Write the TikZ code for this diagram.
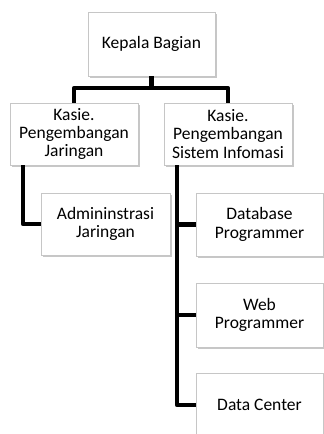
\documentclass[tikz,border=0pt]{standalone}
\usepackage{fontspec}
\setmainfont{Carlito}
\usetikzlibrary{shadows}
\tikzset{
    jabatan/.style={draw=gray!45, fill=white, align=center, inner sep=2pt,
        font=\fontsize{17.5}{18.4}\selectfont,
        drop shadow={shadow xshift=1.6pt, shadow yshift=-1.8pt, fill=gray!55, opacity=0.8}},
    garis/.style={line width=4.5pt, line join=round}
}

\begin{document}
\begin{tikzpicture}[x=1pt, y=-1pt]
    \useasboundingbox (0,0) rectangle (324,434);
    \clip (0,0) rectangle (324,434);

    % kepala dan kasie
    \node[jabatan, minimum width=127pt, minimum height=64pt] (kb) at (151.5, 44) {Kepala Bagian};
    \node[jabatan, minimum width=128pt, minimum height=62pt] (kj) at (74, 134)
        {Kasie.\\Pengembangan\\Jaringan};
    \node[jabatan, minimum width=128pt, minimum height=62pt] (ks) at (228, 134)
        {Kasie.\\Pengembangan\\Sistem Infomasi};

    % staf
    \node[jabatan, minimum width=129pt, minimum height=62pt] (adm) at (105.5, 224)
        {Admininstrasi\\Jaringan};
    \node[jabatan, minimum width=127pt, minimum height=63pt] (db) at (259.5, 224.5)
        {Database\\Programmer};
    \node[jabatan, minimum width=127pt, minimum height=64pt] (web) at (259.5, 315)
        {Web\\Programmer};
    \node[jabatan, minimum width=127pt, minimum height=64pt] (dc) at (259.5, 405)
        {Data Center};

    \coordinate (jl) at (23, 165);
    \coordinate (sl) at (177, 165);

    \draw[garis] (kb.south) -- ++(0,12) -| (kj.north);
    \draw[garis] (kb.south) -- ++(0,12) -| (ks.north);
    \draw[garis] (jl) |- (adm.west);
    \draw[garis] (sl) |- (dc.west);
    \foreach \n in {db, web}
        \draw[garis] (sl |- \n.west) -- (\n.west);
\end{tikzpicture}
\end{document}
